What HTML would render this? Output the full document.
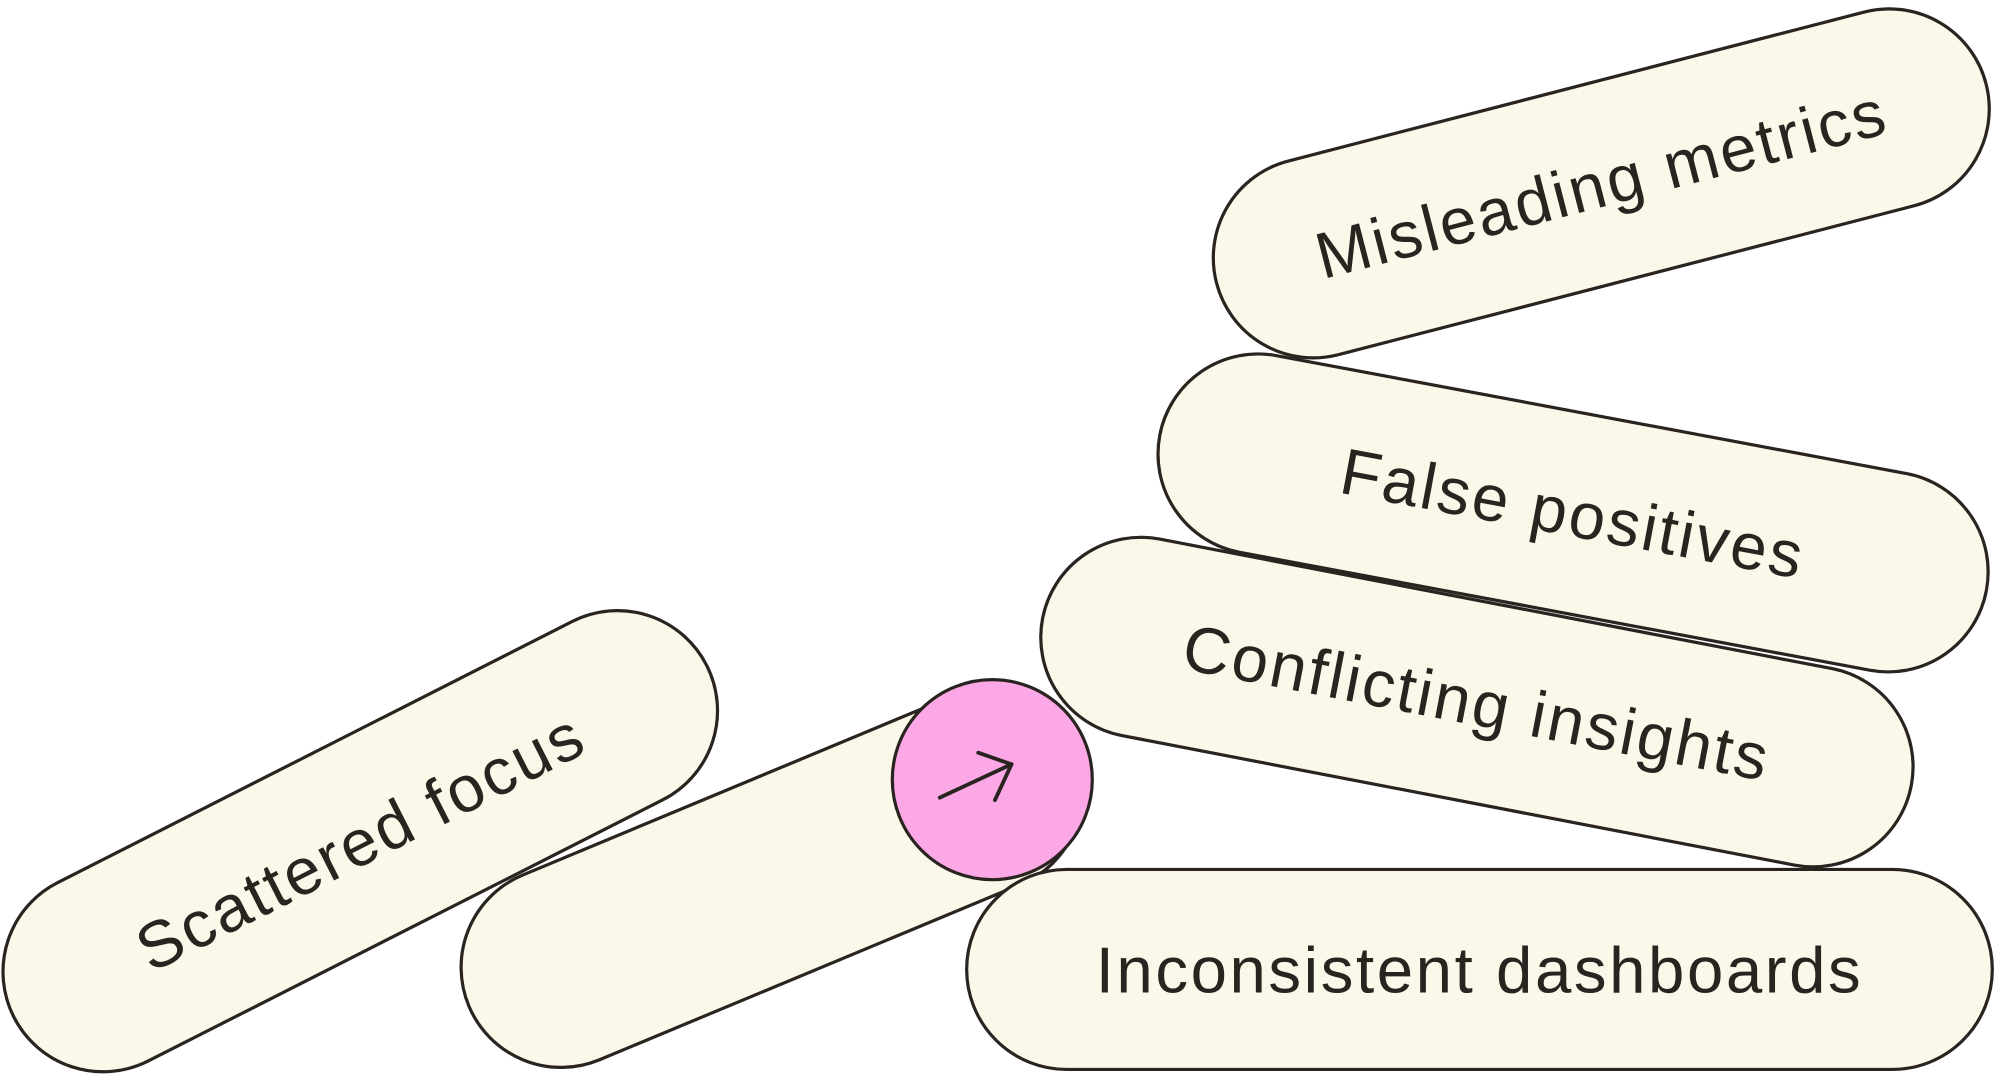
<!DOCTYPE html>
<html><head><meta charset="utf-8"><style>
html,body{margin:0;padding:0;background:#fff;}
svg{display:block;}
text{font-family:"Liberation Sans",sans-serif;font-size:51px;fill:#2a2420;letter-spacing:2px;}
</style></head><body>
<svg width="2000" height="1081" viewBox="0 0 1560 843" preserveAspectRatio="none">
<g transform="translate(-3,-2)">
<g fill="#FCF8E9" stroke="#2a2420" stroke-width="2.5">
<g transform="translate(284,658) rotate(-26.9)"><rect x="-303" y="-78" width="606" height="156" rx="78"/><text x="0" y="18" text-anchor="middle" stroke="none">Scattered focus</text></g>
<g transform="translate(605,688) rotate(-22.6)"><rect x="-256" y="-78" width="512" height="156" rx="78"/></g>
<circle cx="777" cy="610" r="78" fill="#FDA8E6"/>
<g transform="translate(1157,758)"><rect x="-400" y="-78" width="800" height="156" rx="78"/><text x="0" y="18" text-anchor="middle" stroke="none">Inconsistent dashboards</text></g>
<g transform="translate(1155,549.5) rotate(10.9)"><rect x="-345" y="-78" width="690" height="156" rx="78"/><text x="0" y="18" text-anchor="middle" stroke="none">Conflicting insights</text></g>
<g transform="translate(1230,402) rotate(10.6)"><rect x="-328" y="-78" width="656" height="156" rx="78"/><text x="0" y="18" text-anchor="middle" stroke="none">False positives</text></g>
<g transform="translate(1252,145) rotate(-14.5)"><rect x="-310" y="-78" width="620" height="156" rx="78"/><text x="0" y="18" text-anchor="middle" stroke="none">Misleading metrics</text></g>
</g>
<g stroke="#2a2420" stroke-width="3" fill="none" stroke-linecap="round" stroke-linejoin="round">
<path d="M736 624 L792 598"/><path d="M766 589 L792 598 L779 626"/>
</g>
</g>
</svg>
</body></html>
